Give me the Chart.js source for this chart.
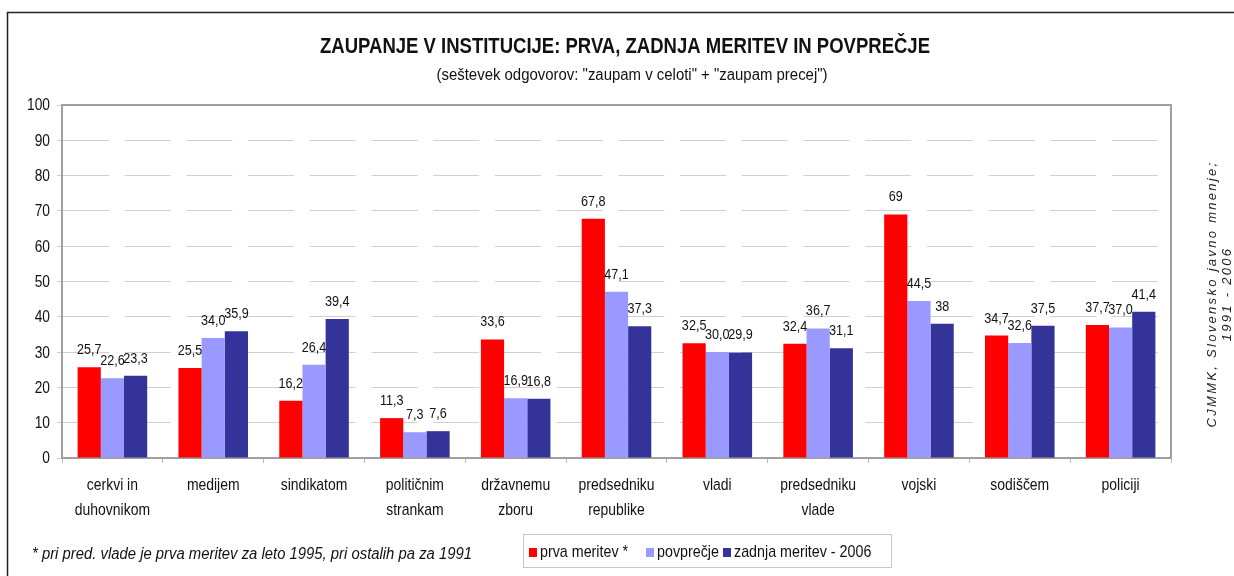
<!DOCTYPE html>
<html>
<head>
<meta charset="utf-8">
<script src="https://cdn.jsdelivr.net/npm/chart.js@4.4.0/dist/chart.umd.min.js"></script>
<style>
  html, body { margin: 0; padding: 0; background: #fff; }
  #wrap { width: 1234px; height: 576px; position: relative; }
</style>
</head>
<body>
<div id="wrap"><canvas id="chart" width="1234" height="576"></canvas></div>
<script>
// DATA

const categories = [
    ["cerkvi in", "duhovnikom"], "medijem", "sindikatom", ["političnim", "strankam"],
    ["državnemu", "zboru"], ["predsedniku", "republike"], "vladi",
    ["predsedniku", "vlade"], "vojski", "sodiščem", "policiji"
];
const firstValues = [25.7, 25.5, 16.2, 11.3, 33.6, 67.8, 32.5, 32.4, 69, 34.7, 37.7];
const avgValues = [22.6, 34.0, 26.4, 7.3, 16.9, 47.1, 30.0, 36.7, 44.5, 32.6, 37.0];
const lastValues = [23.3, 35.9, 39.4, 7.6, 16.8, 37.3, 29.9, 31.1, 38, 37.5, 41.4];
const firstLabels = ["25,7", "25,5", "16,2", "11,3", "33,6", "67,8", "32,5", "32,4", "69", "34,7", "37,7"];
const avgLabels = ["22,6", "34,0", "26,4", "7,3", "16,9", "47,1", "30,0", "36,7", "44,5", "32,6", "37,0"];
const lastLabels = ["23,3", "35,9", "39,4", "7,6", "16,8", "37,3", "29,9", "31,1", "38", "37,5", "41,4"];
const seriesNames = ["prva meritev *", "povprečje", "zadnja meritev - 2006"];
const seriesColors = ["#ff0000", "#9999ff", "#333399"];
const yMin = 0, yMax = 100, yStep = 10;

const titleText = "ZAUPANJE V INSTITUCIJE: PRVA, ZADNJA MERITEV IN POVPREČJE";
const subtitleText = "(seštevek odgovorov: \"zaupam v celoti\" + \"zaupam precej\")";
const footnoteText = "* pri pred. vlade je prva meritev za leto 1995, pri ostalih pa za 1991";
const sourceLines = ["CJMMK, Slovensko javno mnenje;", "1991 - 2006"];

const FONT = "'Liberation Sans', Arial, sans-serif";
const NARROW = 0.82;   // no narrow face installed, squeeze instead


// HELPERS

// text squeezed to a fixed width
function fitText(ctx, text, cx, y, width, font) {
    ctx.save();
    ctx.font = font;
    const w = ctx.measureText(text).width;
    ctx.translate(cx, y);
    ctx.scale(width / w, 1);
    ctx.textAlign = "center";
    ctx.fillText(text, 0, 0);
    ctx.restore();
}

// text squeezed by a factor
function narrowText(ctx, text, x, y, align, sx) {
    ctx.save();
    ctx.translate(x, y);
    ctx.scale(sx, 1);
    ctx.textAlign = align;
    ctx.fillText(text, 0, 0);
    ctx.restore();
}


// TICK LABELS (narrow)

const narrowTicks = {
    id: "narrowTicks",
    afterDraw(chart) {
        const ctx = chart.ctx;
        const xs = chart.scales.x, ys = chart.scales.y;
        ctx.save();
        ctx.fillStyle = "#111";
        ctx.textBaseline = "middle";

        ctx.font = "17px " + FONT;
        chart.data.labels.forEach((lab, i) => {
            const lines = Array.isArray(lab) ? lab : [lab];
            const x = xs.getPixelForTick(i);
            lines.forEach((ln, k) => narrowText(ctx, ln, x, 485 + k * 25, "center", NARROW));
        });

        ctx.font = "16px " + FONT;
        ys.ticks.forEach(t => {
            narrowText(ctx, String(t.value), ys.left + ys.width - 12, ys.getPixelForValue(t.value) + 1, "right", 0.86);
        });
        ctx.restore();
    }
};


// DATA LABELS

const valueLabels = {
    id: "valueLabels",
    afterDatasetsDraw(chart) {
        const ctx = chart.ctx;
        const all = [firstLabels, avgLabels, lastLabels];
        ctx.save();
        ctx.font = "15px " + FONT;
        ctx.fillStyle = "#111";
        ctx.textBaseline = "alphabetic";
        chart.data.datasets.forEach((ds, i) => {
            chart.getDatasetMeta(i).data.forEach((bar, j) => {
                narrowText(ctx, all[i][j], bar.x, bar.y - 13, "center", 0.84);
            });
        });
        ctx.restore();
    }
};


// DECORATIONS (title, frame, legend, notes)

const decorations = {
    id: "decorations",
    afterDraw(chart) {
        const ctx = chart.ctx;
        const area = chart.chartArea;

        // outer frame
        ctx.save();
        ctx.strokeStyle = "#222";
        ctx.lineWidth = 1.5;
        ctx.strokeRect(7.5, 12.5, 1300, 700);

        // plot border top + right
        ctx.strokeStyle = "#a0a0a0";
        ctx.lineWidth = 2;
        ctx.beginPath();
        ctx.moveTo(area.left, area.top);
        ctx.lineTo(area.right, area.top);
        ctx.lineTo(area.right, area.bottom);
        ctx.stroke();
        ctx.restore();

        // titles
        ctx.fillStyle = "#111";
        fitText(ctx, titleText, 625, 53, 610, "bold 22px " + FONT);
        fitText(ctx, subtitleText, 632, 80, 391, "16px " + FONT);

        // footnote
        ctx.save();
        ctx.font = "italic 16px " + FONT;
        const fw = ctx.measureText(footnoteText).width;
        ctx.translate(32, 559);
        ctx.scale(440 / fw, 1);
        ctx.textAlign = "left";
        ctx.fillText(footnoteText, 0, 0);
        ctx.restore();

        // legend
        ctx.save();
        ctx.strokeStyle = "#c8c8c8";
        ctx.lineWidth = 1;
        ctx.strokeRect(523.5, 534.5, 368, 33);
        ctx.font = "17px " + FONT;
        ctx.textBaseline = "alphabetic";
        const boxX = [529, 646, 723];
        chart.data.datasets.forEach((ds, i) => {
            ctx.fillStyle = ds.backgroundColor;
            ctx.fillRect(boxX[i], 548, 8, 9);
            ctx.fillStyle = "#111";
            narrowText(ctx, ds.label, boxX[i] + 11, 557, "left", 0.84);
        });
        ctx.restore();

        // source, rotated
        ctx.save();
        ctx.font = "italic 13px " + FONT;
        ctx.fillStyle = "#222";
        ctx.textAlign = "center";
        ctx.letterSpacing = "2.3px";
        ctx.translate(1216, 294);
        ctx.rotate(-Math.PI / 2);
        ctx.fillText(sourceLines[0], 0, 0);
        ctx.fillText(sourceLines[1], 0, 15);
        ctx.restore();
    }
};


// CHART

new Chart(document.getElementById("chart").getContext("2d"), {
    type: "bar",
    data: {
        labels: categories,
        datasets: [
            { label: seriesNames[0], data: firstValues, backgroundColor: seriesColors[0] },
            { label: seriesNames[1], data: avgValues, backgroundColor: seriesColors[1] },
            { label: seriesNames[2], data: lastValues, backgroundColor: seriesColors[2] }
        ]
    },
    options: {
        responsive: false,
        animation: false,
        layout: { padding: { left: 10, top: 105, right: 63, bottom: 48 } },
        datasets: { bar: { categoryPercentage: 0.69, barPercentage: 1 } },
        plugins: {
            legend: { display: false },
            tooltip: { enabled: false },
            title: { display: false }
        },
        scales: {
            x: {
                grid: { display: true, drawOnChartArea: false, tickLength: 5, color: "#b8b8b8", offset: true },
                border: { color: "#a0a0a0", width: 2 },
                ticks: { display: false, autoSkip: false },
                afterFit(s) { s.height = 70; }
            },
            y: {
                min: yMin, max: yMax,
                grid: { color: "#d0d0d0", tickLength: 5 },
                border: { color: "#a0a0a0", width: 2, dash: [46, 15.7] },
                ticks: { display: false, stepSize: yStep },
                afterFit(s) { s.width = 52; }
            }
        }
    },
    plugins: [valueLabels, narrowTicks, decorations]
});
</script>
</body>
</html>
